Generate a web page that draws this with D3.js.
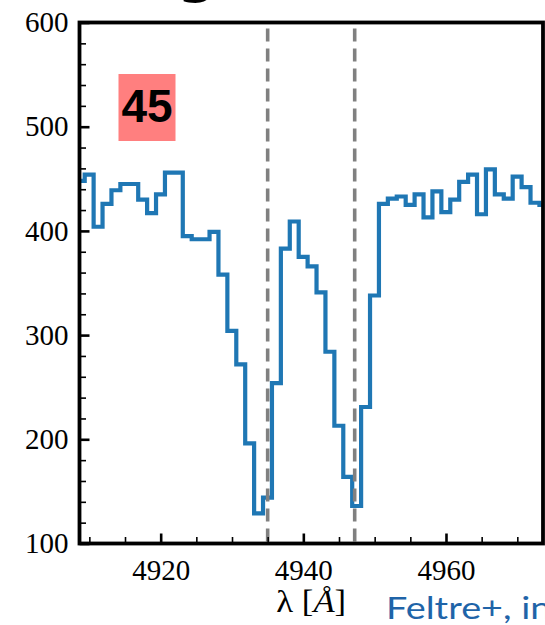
<!DOCTYPE html>
<html>
<head>
<meta charset="utf-8">
<script src="https://cdn.jsdelivr.net/npm/d3@7"></script>
<style>
  html, body { margin: 0; padding: 0; background: #fff; }
  svg { display: block; }
</style>
</head>
<body>
<div id="chart"></div>
<script>
// left edge of each 1.25 A bin
var binStart = [4908.10, 4909.35, 4910.60, 4911.85, 4913.10, 4914.35, 4915.60, 4916.85,
  4918.10, 4919.35, 4920.60, 4921.85, 4923.10, 4924.35, 4925.60, 4926.85, 4928.10,
  4929.35, 4930.60, 4931.85, 4933.10, 4934.35, 4935.60, 4936.85, 4938.10, 4939.35,
  4940.60, 4941.85, 4943.10, 4944.35, 4945.60, 4946.85, 4948.10, 4949.35, 4950.60,
  4951.85, 4953.10, 4954.35, 4955.60, 4956.85, 4958.10, 4959.35, 4960.60, 4961.85,
  4963.10, 4964.35, 4965.60, 4966.85, 4968.10, 4969.35, 4970.60, 4971.85, 4973.10];
var lastEdge = 4974.35;
var flux = [448, 454, 404, 426, 439, 445, 445, 430, 417, 435, 456, 456, 395, 392, 392,
  399, 358, 304, 272, 196, 129, 144, 254, 383, 409, 375, 366, 341, 284, 213, 164, 136,
  231, 338, 426, 431, 433, 425, 435, 413, 438, 418, 430, 447, 454, 416, 459, 435, 431,
  452, 442, 427, 425];
var lineMarks = [4935.0, 4947.2];
var xMajor = [4920, 4940, 4960];
var xMinor = [4910, 4915, 4925, 4930, 4935, 4945, 4950, 4955, 4965, 4970];
var yMajor = [100, 200, 300, 400, 500, 600];
var yMinor = [120, 140, 160, 180, 220, 240, 260, 280, 320, 340, 360, 380,
  420, 440, 460, 480, 520, 540, 560, 580];
var panelLabel = "45";

var W = 545, H = 625;
var L = 79.5, R = 543, T = 22.5, B = 543.5;

var svg = d3.select("#chart").append("svg")
  .attr("width", W)
  .attr("height", H);

var x = d3.scaleLinear().domain([4908.62, 4973.6]).range([L, R]);
var y = d3.scaleLinear().domain([100, 600]).range([B, T]);

svg.append("clipPath").attr("id", "plot")
  .append("rect")
  .attr("x", L).attr("y", T)
  .attr("width", R - L).attr("height", B - T);

// cut-off title glyph at the very top
svg.append("text")
  .attr("x", 197).attr("y", -10)
  .attr("text-anchor", "middle")
  .style("font-family", "'Noto Sans', sans-serif")
  .style("font-weight", "bold")
  .style("font-size", "56px")
  .text("g");

// spectrum as a step line
var pts = binStart.map(function(d, i) { return [d, flux[i]]; });
pts.push([lastEdge, flux[flux.length - 1]]);

var step = d3.line()
  .x(function(d) { return x(d[0]); })
  .y(function(d) { return y(d[1]); })
  .curve(d3.curveStepAfter);

svg.append("path")
  .datum(pts)
  .attr("clip-path", "url(#plot)")
  .attr("d", step)
  .attr("fill", "none")
  .attr("stroke", "#1f77b4")
  .attr("stroke-width", 4.2)
  .attr("stroke-linejoin", "miter");

// dashed line positions
svg.selectAll("line.mark").data(lineMarks).enter()
  .append("line")
  .attr("class", "mark")
  .attr("x1", function(d) { return x(d); })
  .attr("x2", function(d) { return x(d); })
  .attr("y1", y(600) + 6)
  .attr("y2", y(100))
  .attr("stroke", "#808080")
  .attr("stroke-width", 3.6)
  .attr("stroke-dasharray", "13,7");

// minor ticks
svg.append("g")
  .attr("transform", "translate(0," + B + ")")
  .call(d3.axisBottom(x).tickValues(xMinor).tickSize(-6.5).tickFormat(""))
  .call(function(g) { g.select(".domain").remove(); })
  .selectAll("line").attr("stroke-width", 1.6);

svg.append("g")
  .attr("transform", "translate(" + L + ",0)")
  .call(d3.axisLeft(y).tickValues(yMinor).tickSize(-6.5).tickFormat(""))
  .call(function(g) { g.select(".domain").remove(); })
  .selectAll("line").attr("stroke-width", 1.6);

// major ticks + labels
var xAxis = svg.append("g")
  .attr("transform", "translate(0," + B + ")")
  .call(d3.axisBottom(x).tickValues(xMajor).tickSize(-10).tickPadding(16)
    .tickFormat(d3.format("d")))
  .call(function(g) { g.select(".domain").remove(); });
xAxis.selectAll("line").attr("stroke-width", 2.6);

var yAxis = svg.append("g")
  .attr("transform", "translate(" + L + ",0)")
  .call(d3.axisLeft(y).tickValues(yMajor).tickSize(-10).tickPadding(11)
    .tickFormat(d3.format("d")))
  .call(function(g) { g.select(".domain").remove(); });
yAxis.selectAll("line").attr("stroke-width", 2.6);

svg.selectAll(".tick text")
  .attr("fill", "#000")
  .style("font-family", "'Liberation Serif', 'Times New Roman', serif")
  .style("font-size", "29px");

// frame
svg.append("rect")
  .attr("x", L).attr("y", T)
  .attr("width", R - L).attr("height", B - T)
  .attr("fill", "none")
  .attr("stroke", "#000")
  .attr("stroke-width", 3.8);

// axis title
var xt = svg.append("g")
  .attr("transform", "translate(" + ((L + R) / 2) + ",612) scale(1.12,1)")
  .append("text")
  .attr("text-anchor", "middle")
  .style("font-family", "'Liberation Serif', 'Times New Roman', serif")
  .style("font-size", "31px");
xt.append("tspan").text("λ [");
xt.append("tspan").style("font-style", "italic").text("Å");
xt.append("tspan").text("]");

// panel label box
svg.append("rect")
  .attr("x", 118.5).attr("y", 74)
  .attr("width", 57).attr("height", 67)
  .attr("fill", "#ff7f7f");
svg.append("text")
  .attr("x", 147).attr("y", 121.5)
  .attr("text-anchor", "middle")
  .style("font-family", "'Liberation Sans', Arial, sans-serif")
  .style("font-weight", "bold")
  .style("font-size", "46px")
  .text(panelLabel);

// credit text, cut by the right edge as in the source
svg.append("g")
  .attr("transform", "translate(386,619) scale(1.22,1)")
  .append("text")
  .style("font-family", "Lato, 'Open Sans', sans-serif")
  .style("font-size", "31px")
  .attr("fill", "#1f64a8")
  .text("Feltre+, in");
</script>
</body>
</html>
